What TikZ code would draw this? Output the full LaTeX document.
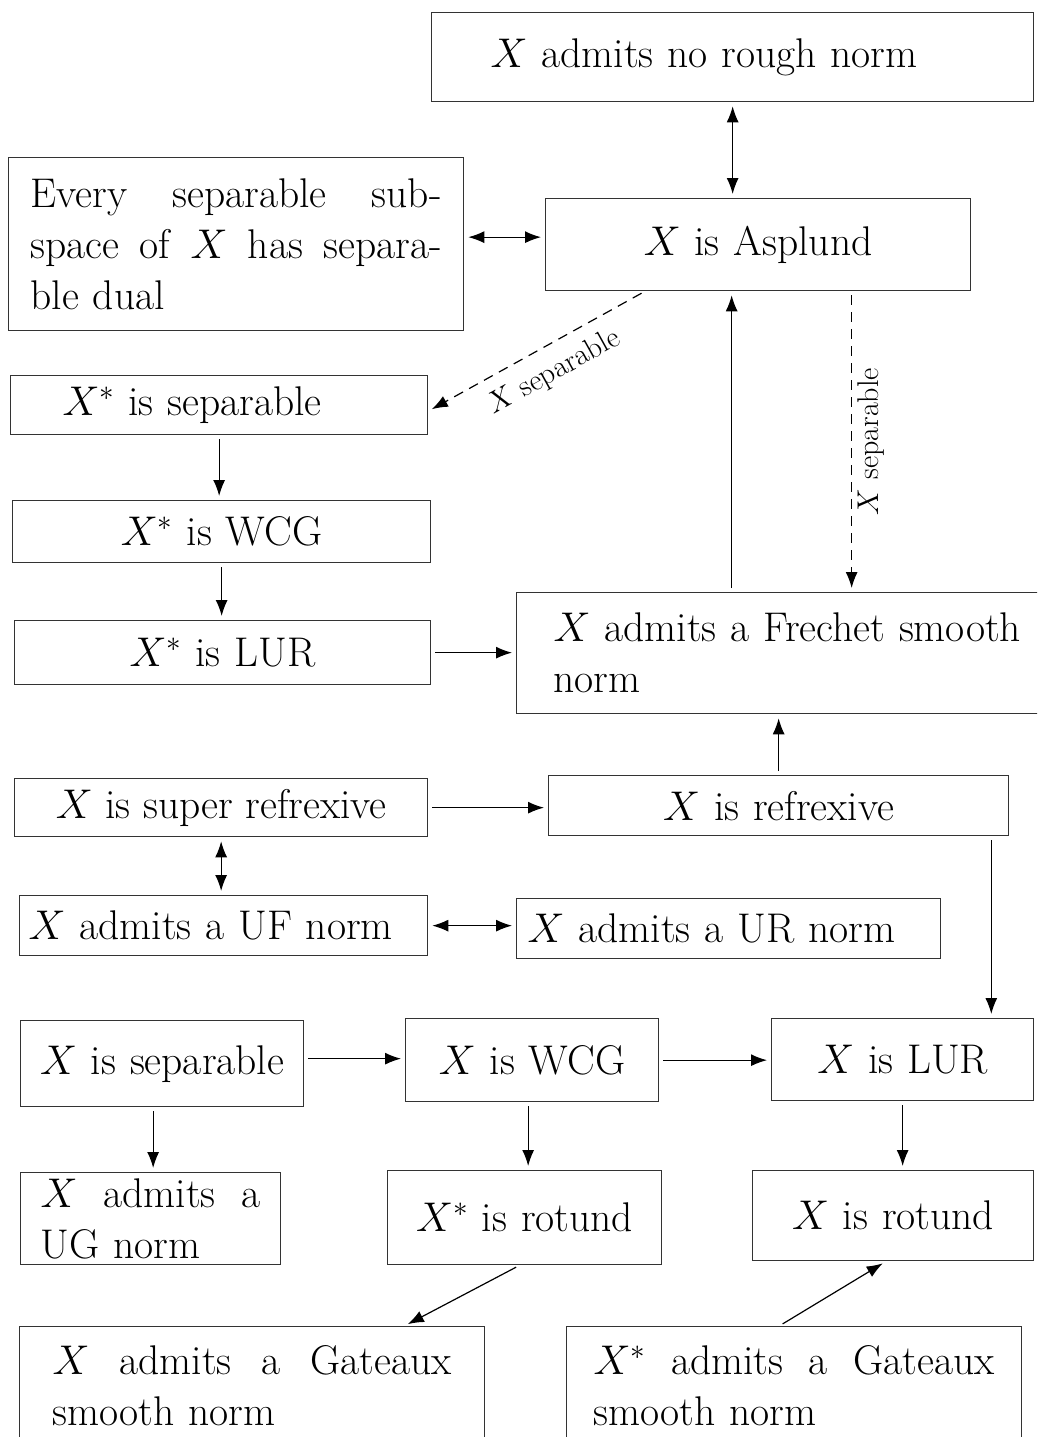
\RequirePackage{fix-cm}
\documentclass[tikz,border=0pt]{standalone}
\usetikzlibrary{arrows.meta,calc}

\newcommand{\bigtext}{\fontsize{41.5}{51}\selectfont}
\newcommand{\smalltext}{\fontsize{30}{34}\selectfont}

\tikzset{
  prop/.style={draw=black!80, line width=1.3pt, rectangle, anchor=north west,
    font=\bigtext, inner ysep=0pt},
  arr/.style={-{Latex[length=16pt,width=12pt]}, line width=1.2pt,
    shorten >=4pt, shorten <=4pt},
  dbl/.style={arr, {Latex[length=16pt,width=12pt]}-{Latex[length=16pt,width=12pt]}},
  cond/.style={arr, dash pattern=on 10pt off 7pt},
  condlabel/.style={font=\smalltext, anchor=north, inner sep=8pt}
}

\begin{document}
\begin{tikzpicture}[x=1pt, y=-1pt]
  \useasboundingbox (0,0) rectangle (1037,1437);
  \clip (0,0) rectangle (1037,1437);

  % top part
  \node [prop, inner xsep=59pt, text width=484pt, minimum height=89pt, align=left]
    (norough) at (431,12) {$X$ admits no rough norm};
  \node [prop, inner xsep=22pt, text width=411pt, minimum height=173pt, align=left]
    (everysub) at (8,157) {Every\hfill separable\hfill sub-\\space\hfill of\hfill $X$\hfill has\hfill separa-\\ble dual};
  \node [prop, inner xsep=10pt, text width=405pt, minimum height=92pt, align=center]
    (asplund) at (545,198) {$X$ is Asplund};

  \node [prop, inner xsep=52pt, text width=313pt, minimum height=59pt, align=left]
    (dualsep) at (10,375) {$X^*$ is separable};
  \node [prop, inner xsep=10pt, text width=398pt, minimum height=62pt, align=center]
    (dualwcg) at (12,500) {$X^*$ is WCG};
  \node [prop, inner xsep=10pt, text width=396pt, minimum height=64pt, align=center]
    (duallur) at (14,620) {$X^*$ is LUR};
  \node [prop, inner xsep=37pt, text width=470pt, minimum height=121pt, align=left]
    (frechet) at (516,592) {$X$ admits a Frechet smooth\\norm};

  % reflexive part
  \node [prop, inner xsep=0pt, minimum width=413pt, minimum height=58pt]
    (superrefl) at (14,778) {$X$ is super refrexive};
  \node [prop, inner xsep=10pt, text width=440pt, minimum height=60pt, align=center]
    (refl) at (548,775) {$X$ is refrexive};
  \node [prop, inner xsep=9pt, text width=390pt, minimum height=60pt, align=left]
    (uf) at (19,895) {$X$ admits a UF norm};
  \node [prop, inner xsep=11pt, text width=402pt, minimum height=60pt, align=left]
    (ur) at (516,898) {$X$ admits a UR norm};

  % separable part
  \node [prop, inner xsep=5pt, text width=273pt, minimum height=86pt, align=center]
    (sep) at (20,1020) {$X$ is separable};
  \node [prop, inner xsep=10pt, text width=233pt, minimum height=83pt, align=center]
    (wcg) at (405,1018) {$X$ is WCG};
  \node [prop, inner xsep=10pt, text width=242pt, minimum height=82pt, align=center]
    (lur) at (771,1018) {$X$ is LUR};
  \node [prop, inner xsep=20pt, text width=220pt, minimum height=92pt, align=left]
    (ug) at (20,1172) {$X$\hfill admits\hfill a\\UG norm};
  \node [prop, inner xsep=10pt, text width=254pt, minimum height=94pt, align=center]
    (dualrot) at (387,1170) {$X^*$ is rotund};
  \node [prop, inner xsep=10pt, text width=261pt, minimum height=90pt, align=center]
    (rot) at (752,1170) {$X$ is rotund};
  \node [prop, inner xsep=33pt, text width=399pt, minimum height=118pt, align=left]
    (gateaux) at (19,1326) {$X$\hfill admits\hfill a\hfill Gateaux\\smooth norm};
  \node [prop, inner xsep=27pt, text width=401pt, minimum height=118pt, align=left]
    (dualgateaux) at (566,1326) {$X^*$\hfill admits\hfill a\hfill Gateaux\\smooth norm};

  % helper points for the vertical connectors at asplund
  \coordinate (upTop) at ([xshift=-26.5pt]asplund.south);
  \coordinate (sepTop) at ([xshift=93.5pt]asplund.south);
  \coordinate (drop) at ([xshift=-18pt]refl.south east);

  % connectors
  \draw [dbl] (norough.south) -- (norough.south |- asplund.north);
  \draw [dbl] ([yshift=7pt]everysub.east) -- ([yshift=7pt]everysub.east -| asplund.west);
  \draw [cond] ([xshift=100pt]asplund.south west) -- ([yshift=-6pt]dualsep.east)
    node [condlabel, rotate=29, pos=0.48, inner sep=13pt] (lblsep) {$X$ separable};
  \draw [cond] (sepTop) -- (sepTop |- frechet.north)
    node [condlabel, rotate=90, midway, inner sep=5pt] (lblfre) {$X$ separable};
  \draw [arr] (upTop |- frechet.north) -- (upTop);

  \draw [arr] (dualsep.south) -- (dualsep.south |- dualwcg.north);
  \draw [arr] (dualwcg.south) -- (dualwcg.south |- duallur.north);
  \draw [arr] (duallur.east) -- (duallur.east -| frechet.west);
  \draw [arr] (refl.north) -- (refl.north |- frechet.south);
  \draw [arr] (superrefl.east) -- (superrefl.east -| refl.west);
  \draw [dbl] (superrefl.south) -- (superrefl.south |- uf.north);
  \draw [dbl] (uf.east) -- (uf.east -| ur.west);
  \draw [arr] (drop) -- (drop |- lur.north);

  \draw [arr] ([yshift=5pt]sep.east) -- ([yshift=5pt]sep.east -| wcg.west);
  \draw [arr] (wcg.east) -- (wcg.east -| lur.west);
  \draw [arr] ([xshift=-9pt]sep.south) -- ([xshift=-9pt]sep.south |- ug.north);
  \draw [arr] ([xshift=-4pt]wcg.south) -- ([xshift=-4pt]wcg.south |- dualrot.north);
  \draw [arr] (lur.south) -- (lur.south |- rot.north);
  \draw [arr] ([xshift=-5pt]dualrot.south) -- ([xshift=-81pt]gateaux.north east);
  \draw [arr] ([xshift=-15pt]dualgateaux.north) -- ([xshift=-7pt]rot.south);
\end{tikzpicture}
\end{document}
